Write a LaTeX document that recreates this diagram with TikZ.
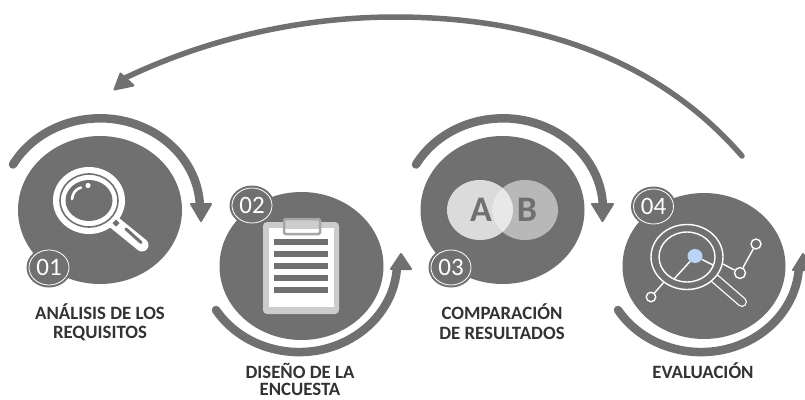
\documentclass[tikz,border=0pt]{standalone}
\usepackage{fontspec}
\setmainfont{Carlito}
\usetikzlibrary{shapes.geometric}
\definecolor{blob}{HTML}{707070}
\definecolor{labelc}{HTML}{333333}
\definecolor{clipl}{HTML}{CCCCCC}
\definecolor{clipd}{HTML}{A6A6A6}
\definecolor{bluedot}{HTML}{B9D5F5}
\tikzset{
  disc/.style={ellipse,fill=blob,inner sep=0pt,outer sep=0pt,minimum width=#1},
  sweep/.style={draw=blob,line width=8.5pt,line cap=round},
  tiphead/.style={fill=blob,draw=blob,line width=2pt,line join=round},
  badge/.style={ellipse,draw=white,line width=0.8pt,fill=blob,inner sep=0pt,outer sep=0pt,minimum width=40pt,minimum height=35pt,text=white,font=\fontsize{25}{26}\selectfont},
  badgeback/.style={ellipse,fill=blob,inner sep=0pt,minimum width=45pt,minimum height=40pt},
  steplabel/.style={anchor=base,text=labelc,font=\fontsize{18.8}{20}\selectfont\bfseries,inner sep=0pt},
  thinw/.style={draw=white,line width=1.4pt},
  barline/.style={fill=blob},
  venn/.style={anchor=center,text=blob,inner sep=0pt,font=\fontsize{36}{38}\selectfont\bfseries}
}
\begin{document}
\begin{tikzpicture}[x=1pt,y=-1pt]
\useasboundingbox (0,0) rectangle (805,399);
\fill[white] (0,0) rectangle (805,399);

% return arrow
\coordinate (retstart) at (742,156);
\coordinate (rettop) at (395,17);
\coordinate (retend) at (125,78);
\draw[draw=blob,line width=5.5pt,line cap=round] (retstart) .. controls (650,50) and (520,17) .. (rettop) .. controls (310,17) and (215,35) .. (retend);
\fill[tiphead] (114.5,89.5) -- (120.5,73.5) -- (133.5,85.5) -- cycle;

% discs
\node[disc=164pt,minimum height=148pt] (c1) at (100,210) {};
\node[disc=164pt,minimum height=148pt] (c2) at (301.5,266) {};
\node[disc=164pt,minimum height=148pt] (c3) at (502.5,210) {};
\node[disc=163pt,minimum height=146pt] (c4) at (704,266) {};

% sweep arcs
\coordinate (s1) at (13,164.5);
\draw[sweep] (s1) arc[start angle=209.5,end angle=356,x radius=100,y radius=91];
\fill[tiphead] (191,204) -- (211,204) -- (201,221) -- cycle;
\coordinate (s3) at (416,164.5);
\draw[sweep] (s3) arc[start angle=209.5,end angle=356,x radius=100,y radius=91];
\fill[tiphead] (592,204) -- (613,204) -- (602.5,221) -- cycle;
\coordinate (s2) at (216,310);
\draw[sweep] (s2) arc[start angle=148,end angle=5,x radius=98,y radius=89.5];
\fill[tiphead] (391,269) -- (411,269) -- (401,254) -- cycle;
\coordinate (s4) at (618,310);
\draw[sweep] (s4) arc[start angle=148,end angle=5,x radius=98,y radius=89.5];
\fill[tiphead] (793,270) -- (813,270) -- (803,254) -- cycle;

% magnifier
\draw[white,line width=13pt,line cap=round] (113,221.5) -- (142,245);
\draw[blob,line width=3pt,line cap=round] (126,229) -- (141,242.5);
\fill[white] (89,200.5) ellipse[x radius=36,y radius=33.5];
\draw[blob,line width=1.6pt] (89,200.5) ellipse[x radius=29,y radius=26.5];
\fill[blob] (89,200.5) ellipse[x radius=23.5,y radius=20.5];
\draw[white,line width=2.6pt,line cap=round] (72,199) .. controls (72.5,193) and (76,189) .. (81,187.5);
\fill[white] (88,185.5) circle[radius=2.6];
\fill[blob] (116,219.5) -- (119.5,223) -- (116,226.5) -- (112.5,223) -- cycle;

% clipboard
\fill[clipl,rounded corners=4pt] (263,222) rectangle (339,314);
\fill[white] (269,228) rectangle (334,307);
\foreach \yy in {242,254,266,278,290}{\fill[barline] (274,\yy-2.7) rectangle (328,\yy+2.7);}
\fill[clipl] (284,219) rectangle (320,229);
\fill[white] (284,229) rectangle (320,233);
\draw[clipd,line width=2.5pt,rounded corners=1.5pt] (284,219) rectangle (320,234);

% A/B
\fill[clipl!70!white] (480,210) ellipse[x radius=33,y radius=30];
\fill[black!28] (525,210) ellipse[x radius=33,y radius=30];
\begin{scope}
\clip (480,210) ellipse[x radius=33,y radius=30];
\fill[black!9] (525,210) ellipse[x radius=33,y radius=30];
\end{scope}
\node[venn] (la) at (481,210) {A};
\node[venn] (lb) at (527,210) {B};

% evaluation icon
\draw[white,line width=10pt,line cap=round] (712,276) -- (742,302);
\draw[blob,line width=7.4pt,line cap=round] (712,276) -- (742,302);
\fill[blob] (687,257) ellipse[x radius=36,y radius=32.5];
\draw[thinw] (687,257) ellipse[x radius=36,y radius=32.5];
\draw[thinw] (687,257) ellipse[x radius=28,y radius=25];
\node[ellipse,fill=bluedot,inner sep=0pt,minimum width=15pt,minimum height=14pt] (dot) at (695,256) {};
\node[circle,thinw,inner sep=0pt,minimum size=9.5pt] (n1) at (651,297) {};
\node[circle,thinw,inner sep=0pt,minimum size=11pt] (n2) at (740,273) {};
\node[circle,thinw,inner sep=0pt,minimum size=10pt] (n3) at (756,244) {};
\coordinate (ringa) at (674,279);
\coordinate (ringb) at (664,282);
\coordinate (ringc) at (713,265);
\coordinate (ringd) at (723,264);
\draw[thinw] (dot) -- (ringa);
\draw[thinw] (ringb) -- (n1);
\draw[thinw] (dot) -- (ringc);
\draw[thinw] (ringd) -- (n2);
\draw[thinw] (n2) -- (n3);

% badges
\node[badgeback] (b1o) at (49,267.5) {};
\node[badge] (b1) at (49,267.5) {01};
\node[badgeback] (b2o) at (252,205.5) {};
\node[badge] (b2) at (252,205.5) {02};
\node[badgeback] (b3o) at (451,267.5) {};
\node[badge] (b3) at (451,267.5) {03};
\node[badgeback] (b4o) at (653.5,206.5) {};
\node[badge] (b4) at (653.5,206.5) {04};

% labels
\node[steplabel] (t1a) at (100,319) {ANÁLISIS DE LOS};
\node[steplabel] (t1b) at (100,338) {REQUISITOS};
\node[steplabel] (t2a) at (300,378) {DISEÑO DE LA};
\node[steplabel] (t2b) at (300,395) {ENCUESTA};
\node[steplabel] (t3a) at (502,319) {COMPARACIÓN};
\node[steplabel] (t3b) at (502,339) {DE RESULTADOS};
\node[steplabel] (t4) at (703,378) {EVALUACIÓN};
\end{tikzpicture}
\end{document}
